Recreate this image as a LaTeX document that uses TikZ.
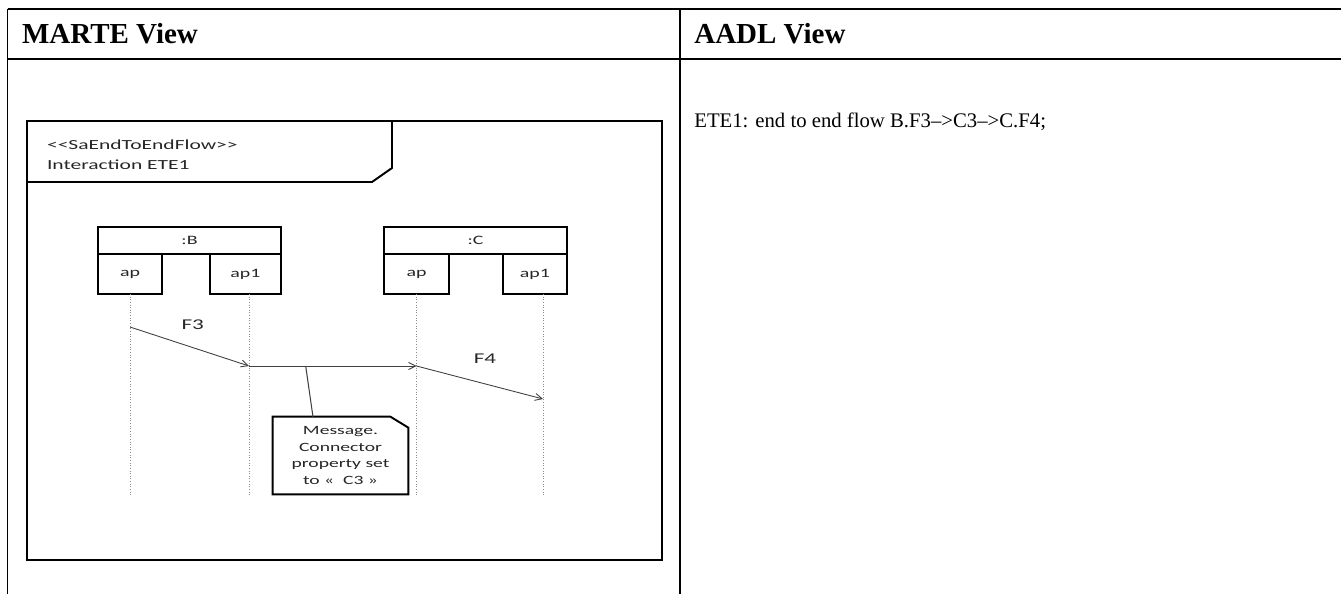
\documentclass[tikz,border=0pt]{standalone}
\usepackage{fontspec}
\setmainfont{Liberation Serif}
\newfontfamily\umlfont[FakeStretch=1.55,Ligatures=TeXOff]{Carlito}
\usetikzlibrary{positioning,arrows.meta}

\begin{document}
\begin{tikzpicture}[
			x=0.02cm,y=-0.02cm,
			rule/.style={line width=1.1pt},
			head/.style={anchor=base west,inner sep=0pt,font=\fontsize{16.5}{20}\selectfont\bfseries},
			body/.style={anchor=base west,inner sep=0pt,font=\fontsize{11.8}{14}\selectfont},
			frame/.style={line width=1.1pt},
			title/.style={anchor=base west,inner sep=0pt,text=black!85,font=\umlfont\fontsize{7.9}{11}\selectfont},
			part/.style={draw,line width=1.1pt,inner sep=0pt,outer sep=0pt,
				minimum height=0.54cm,text=black!85,font=\umlfont\fontsize{7.3}{9}\selectfont},
			port/.style={part,minimum height=0.8cm},
			lifeline/.style={black!45,line width=0.5pt,densely dotted},
			msg/.style={-{Straight Barb[length=4pt,width=4pt]},line width=0.5pt,black!75},
			flowlabel/.style={inner sep=0pt,text=black!85,font=\umlfont\fontsize{8.5}{10}\selectfont},
			memo/.style={inner sep=0pt,align=center,minimum width=2.7cm,minimum height=1.54cm,
				text=black!85,font=\umlfont\fontsize{7.2}{9.6}\selectfont}
			]
			
			\useasboundingbox (0,0) rectangle (1341,594);
			
			\draw[rule] (7.5,9) -- (1341,9);
			\draw[rule] (7.5,59) -- (1341,59);
			\draw[rule] (7.5,9) -- (7.5,594);
			\draw[rule] (680,9) -- (680,594);
			
			\node[head] (marte) at (21.7,44) {MARTE View};
			\node[head] (aadl) at (694,44) {AADL View};
			\node[body] (flow) at (694,128) {ETE1: end to end flow B.F3–>C3–>C.F4;};
			
			\draw[frame] (27,121) rectangle (662,560);
			\draw[frame] (27,182) -- (372,182) -- (392,168) -- (392,121);
			\node[title] (stereo) at (46.7,150) {<<SaEndToEndFlow>>};
			\node[title] (iname) at (46.7,170) {Interaction ETE1};
			
			\node[part,minimum width=3.66cm] (bhead) at (189.5,240.5) {:B};
			\node[port,minimum width=1.28cm,below right=0pt and 0pt of bhead.south west] (bap) {ap};
			\node[port,minimum width=1.42cm,below left=0pt and 0pt of bhead.south east] (bap1) {ap1};
			
			\node[part,minimum width=3.66cm] (chead) at (475.5,240.5) {:C};
			\node[port,minimum width=1.3cm,below right=0pt and 0pt of chead.south west] (cap) {ap};
			\node[port,minimum width=1.28cm,below left=0pt and 0pt of chead.south east] (cap1) {ap1};
			
			\node[memo] (memo) at (340.5,455.5) {Message.\\Connector\\property set\\to «\ \ C3 »};
			\draw[frame] (memo.north west) -- ([xshift=-0.36cm]memo.north east)
				-- ([yshift=-0.22cm]memo.north east) -- (memo.south east)
				-- (memo.south west) -- cycle;
			
			\coordinate (f3s) at (130,327);
			\coordinate (f3e) at (249,366);
			\coordinate (c3e) at (416.5,366);
			\coordinate (f4e) at (543,399);
			\coordinate (link) at (305.7,366);
			\coordinate (linkend) at (313,417);
			
			\draw[lifeline] (bap.south) -- (bap.south |- memo.south);
			\draw[lifeline] (f3e |- bap1.south) -- (f3e |- memo.south);
			\draw[lifeline] (cap.south) -- (cap.south |- memo.south);
			\draw[lifeline] (f4e |- cap1.south) -- (f4e |- memo.south);
			
			\draw[msg] (f3s) -- (f3e);
			\draw[msg] (f3e) -- (c3e);
			\draw[msg] (c3e) -- (f4e);
			\draw[line width=0.6pt,black!75] (link) -- (linkend);
			
			\node[flowlabel] (lf3) at (192.7,325) {F3};
			\node[flowlabel] (lf4) at (485,359) {F4};
			
		\end{tikzpicture}
\end{document}
